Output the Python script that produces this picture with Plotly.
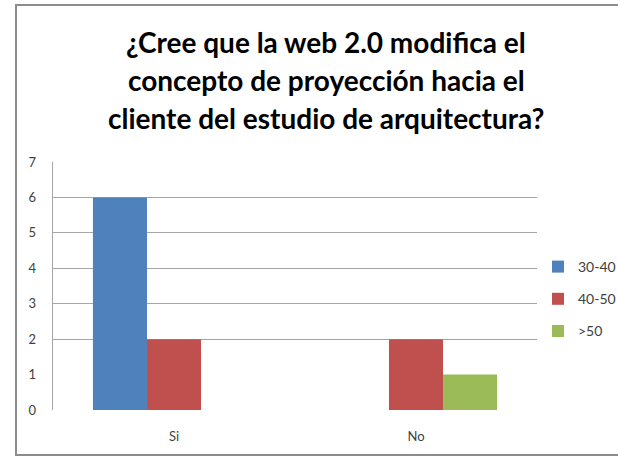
import plotly.graph_objects as go

categories = ["Si", "No"]
series_names = ["30-40", "40-50", ">50"]
values_30_40 = [6, 0]
values_40_50 = [2, 2]
values_50_plus = [0, 1]
colors = ["#4F81BD", "#C0504D", "#9BBB59"]
y_ticks = [0, 1, 2, 3, 4, 5, 6, 7]
grid_ticks = [2, 3, 4, 5, 6]
title_lines = ["¿Cree que la web 2.0 modifica el",
               "concepto de proyección hacia el",
               "cliente del estudio de arquitectura?"]

W, H = 618, 457
L, R, T, B = 53, 81, 162, 47
pw, ph = W - L - R, H - T - B

fig = go.Figure()
for name, vals, col in zip(series_names, [values_30_40, values_40_50, values_50_plus], colors):
    fig.add_trace(go.Bar(x=categories, y=vals, name=name, legendgroup=name,
                         marker=dict(color=col, line=dict(width=0))))

# invisible trace so that the label axis is drawn
fig.add_trace(go.Scatter(x=categories, y=[0, 0], yaxis="y2", mode="markers",
                         marker=dict(opacity=0), showlegend=False, hoverinfo="skip"))

font_family = "Lato, 'Open Sans', sans-serif"

fig.update_layout(
    width=W, height=H,
    margin=dict(l=L, r=R, t=T, b=B, autoexpand=False),
    paper_bgcolor="white", plot_bgcolor="white",
    barmode="group", bargap=0.33, bargroupgap=0,
    xaxis=dict(showgrid=False, showline=False, ticks="", zeroline=False,
               ticklabelstandoff=17,
               tickfont=dict(family=font_family, size=13, color="#404040")),
    yaxis=dict(range=[0, 7], tickvals=grid_ticks, showticklabels=False, showgrid=True,
               gridcolor="#A6A6A6", gridwidth=1, zeroline=False, showline=True,
               linecolor="#A6A6A6", linewidth=1, ticks=""),
    yaxis2=dict(range=[0, 7], overlaying="y", side="left", tickvals=y_ticks,
                showgrid=False, zeroline=False, showline=False, ticks="",
                ticklabelstandoff=16,
                tickfont=dict(family=font_family, size=13, color="#404040")),
    legend=dict(x=(538 - L) / pw, xanchor="left", y=(H - B - 251) / ph, yanchor="top",
                font=dict(family=font_family, size=14, color="#404040"),
                itemwidth=30, tracegroupgap=11, bgcolor="rgba(0,0,0,0)"),
    showlegend=True,
)

title_centers = [42, 80, 118]
for line, yc in zip(title_lines, title_centers):
    fig.add_annotation(text=line, xref="paper", yref="paper",
                       x=(326 - L) / pw, y=(H - B - yc) / ph,
                       xanchor="center", yanchor="middle", showarrow=False,
                       font=dict(family=font_family, size=28, color="#000000", weight="bold"))

fig.add_shape(type="rect", xref="paper", yref="paper",
              x0=(16 - L) / pw, x1=(640 - L) / pw,
              y0=(H - B - 455) / ph, y1=(H - B - 5) / ph,
              line=dict(color="#8C8C8C", width=2), fillcolor="rgba(0,0,0,0)", layer="below")

fig.write_html("out.html", config={"displayModeBar": False},
               post_script="document.body.style.margin='0';document.body.style.overflow='hidden';")
